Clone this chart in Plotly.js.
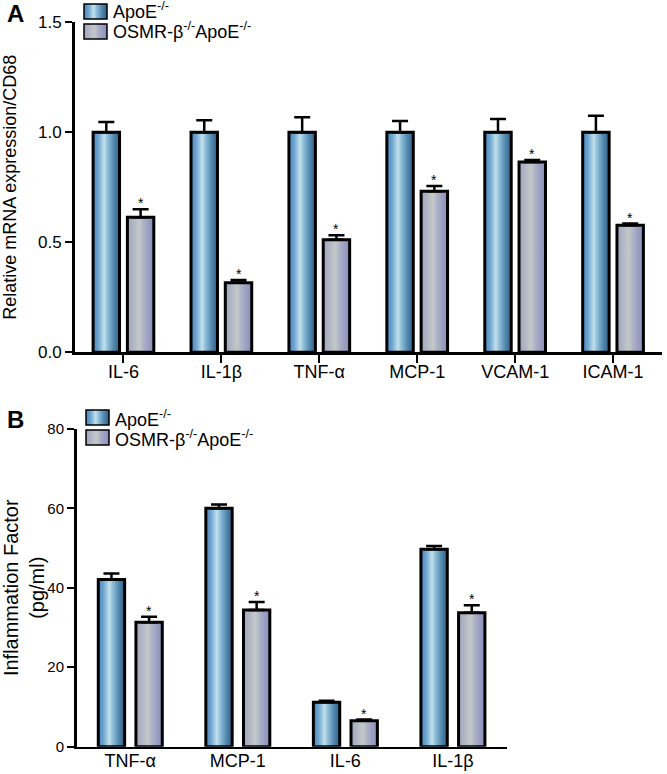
<!DOCTYPE html>
<html>
<head>
<meta charset="utf-8">
<script src="https://cdn.plot.ly/plotly-3.0.1.min.js"></script>
<style>html,body{margin:0;padding:0;background:#fff;}#chart{width:667px;height:774px;}</style>
</head>
<body>
<div id="chart"></div>
<script>
// ---- Data ----
const seriesNames = ['ApoE<sup>-/-</sup>', 'OSMR-β<sup>-/-</sup>ApoE<sup>-/-</sup>'];

// Panel A: Relative mRNA expression / CD68
const catsA = ['IL-6', 'IL-1β', 'TNF-α', 'MCP-1', 'VCAM-1', 'ICAM-1'];
const apoeA = [1.0, 1.0, 1.0, 1.0, 1.0, 1.0];
const apoeAErr = [0.047, 0.055, 0.068, 0.051, 0.060, 0.075];
const osmrA = [0.614, 0.316, 0.512, 0.732, 0.865, 0.577];
const osmrAErr = [0.036, 0.013, 0.020, 0.024, 0.009, 0.008];
const yTicksA = [0.0, 0.5, 1.0, 1.5];

// Panel B: Inflammation factor (pg/ml)
const catsB = ['TNF-α', 'MCP-1', 'IL-6', 'IL-1β'];
const apoeB = [42.1, 60.0, 11.2, 49.7];
const apoeBErr = [1.5, 0.95, 0.35, 0.8];
const osmrB = [31.3, 34.4, 6.5, 33.7];
const osmrBErr = [1.4, 2.0, 0.33, 1.9];
const yTicksB = [0, 20, 40, 60, 80];

// ---- Styling ----
const W = 667, H = 774;
const FONT = 'Liberation Sans, Arial, Helvetica, sans-serif';
const BARGAP = 0.3;
const slotOffset = (1 - BARGAP) / 4; // centre of 2nd bar relative to category
const px = v => v / W;
const py = v => 1 - v / H;

function barTrace(x, y, err, name, xa, ya, width) {
  return {
    type: 'bar', x: x, y: y, name: name, xaxis: xa, yaxis: ya, width: width,
    showlegend: false,
    marker: {color: '#6fa6cf', line: {color: '#000', width: 3}},
    error_y: {type: 'data', array: err, arrayminus: err.map(() => 0), symmetric: false,
              color: '#000', thickness: 2.5, width: 8}
  };
}

const data = [
  barTrace(catsA, apoeA, apoeAErr, seriesNames[0], 'x', 'y', 0.27),
  barTrace(catsA, osmrA, osmrAErr, seriesNames[1], 'x', 'y', 0.27),
  barTrace(catsB, apoeB, apoeBErr, seriesNames[0], 'x2', 'y2', 0.245),
  barTrace(catsB, osmrB, osmrBErr, seriesNames[1], 'x2', 'y2', 0.245)
];
data[1].marker.color = '#a9aec4';
data[3].marker.color = '#a9aec4';

const annotations = [];
// significance asterisks above the OSMR bars
osmrA.forEach((v, i) => annotations.push({
  xref: 'x', yref: 'y', x: i + slotOffset, y: v + osmrAErr[i], text: '*', showarrow: false,
  yanchor: 'bottom', yshift: -4, font: {family: FONT, size: 14, color: '#000'}
}));
osmrB.forEach((v, i) => annotations.push({
  xref: 'x2', yref: 'y2', x: i + slotOffset, y: v + osmrBErr[i], text: '*', showarrow: false,
  yanchor: 'bottom', yshift: -4, font: {family: FONT, size: 14, color: '#000'}
}));
// panel letters
annotations.push({xref: 'paper', yref: 'paper', x: px(15), y: py(14), text: 'A', showarrow: false,
  xanchor: 'center', yanchor: 'middle', font: {family: FONT, size: 24, weight: 'bold', color: '#000'}});
annotations.push({xref: 'paper', yref: 'paper', x: px(15), y: py(419), text: 'B', showarrow: false,
  xanchor: 'center', yanchor: 'middle', font: {family: FONT, size: 24, weight: 'bold', color: '#000'}});

// legend boxes + labels (one legend per panel)
const legendSpec = [
  {x0: 84, y0: 4, top: 11}, {x0: 84, y0: 24, top: 31},
  {x0: 86, y0: 410, top: 418}, {x0: 86, y0: 430, top: 438}
];
const shapes = [];
legendSpec.forEach((s, k) => {
  shapes.push({type: 'rect', xref: 'paper', yref: 'paper',
    x0: px(s.x0), x1: px(s.x0 + 23), y0: py(s.y0), y1: py(s.y0 + 15),
    fillcolor: k % 2 ? '#a9aec4' : '#6fa6cf', line: {color: '#000', width: 1.5}});
  annotations.push({xref: 'paper', yref: 'paper', x: px(s.x0 + 27), y: py(s.top),
    text: seriesNames[k % 2], showarrow: false, xanchor: 'left', yanchor: 'middle',
    font: {family: FONT, size: 18, color: '#000'}});
});

function xAxis(domain, anchor, ticklen) {
  return {domain: domain, anchor: anchor, type: 'category',
    showline: true, linecolor: '#000', linewidth: 2.5, ticks: ticklen ? 'outside' : '', ticklen: ticklen,
    tickwidth: 2, tickcolor: '#000', showgrid: false, zeroline: false, automargin: false,
    tickfont: {family: FONT, size: 18, color: '#000'}, fixedrange: true};
}
function yAxis(domain, anchor, range, ticks, fmt, title, tsize, standoff, tfs) {
  return {domain: domain, anchor: anchor, range: range, tickvals: ticks, tickformat: fmt,
    showline: true, linecolor: '#000', linewidth: 2.5, ticks: 'outside', ticklen: 7,
    tickwidth: 2, tickcolor: '#000', showgrid: false, zeroline: false, automargin: false,
    tickfont: {family: FONT, size: tfs, color: '#000'}, fixedrange: true,
    title: {text: title, standoff: standoff, font: {family: FONT, size: tsize, color: '#000'}}};
}

const xa = xAxis([px(74.5), px(662)], 'y', 8); xa.range = [-0.5, catsA.length - 0.5];
xa.ticklabelstandoff = -6;
const xb = xAxis([px(76.5), px(506.7)], 'y2', 0); xb.range = [-0.5, catsB.length - 0.5];
xb.ticklabelstandoff = -4;
const ya = yAxis([py(352.3), py(22.3)], 'x', [0, 1.5], yTicksA, '.1f',
  'Relative mRNA expression/CD68', 18, 20, 17);
const yb = yAxis([py(746.7), py(428.8)], 'x2', [0, 80], yTicksB, 'd',
  'Inflammation Factor<br>(pg/ml)', 20, 11, 15);

const layout = {
  width: W, height: H, margin: {l: 0, r: 0, t: 0, b: 0},
  paper_bgcolor: '#fff', plot_bgcolor: 'rgba(0,0,0,0)',
  barmode: 'group', bargap: BARGAP, bargroupgap: 0,
  showlegend: false,
  font: {family: FONT, color: '#000'},
  xaxis: xa, yaxis: ya, xaxis2: xb, yaxis2: yb,
  annotations: annotations, shapes: shapes
};

function addGradients(gd) {
  const svg = gd.querySelector('svg.main-svg');
  const ns = 'http://www.w3.org/2000/svg';
  let defs = svg.querySelector('defs');
  if (!defs) { defs = document.createElementNS(ns, 'defs'); svg.insertBefore(defs, svg.firstChild); }
  const grads = {
    gBlue: [[0, '#4a84bd'], [0.2, '#6ea6d0'], [0.42, '#c2e1ec'], [0.55, '#8dbdd8'], [0.8, '#4e84ab'], [1, '#365f85']],
    gGray: [[0, '#9fa4ba'], [0.25, '#b3b8c6'], [0.45, '#c3c9c8'], [0.65, '#a9adc6'], [1, '#878dbb']]
  };
  Object.keys(grads).forEach(id => {
    if (svg.querySelector('#' + id)) return;
    const lg = document.createElementNS(ns, 'linearGradient');
    lg.setAttribute('id', id);
    lg.setAttribute('x1', '0'); lg.setAttribute('x2', '1'); lg.setAttribute('y1', '0'); lg.setAttribute('y2', '0');
    grads[id].forEach(s => {
      const st = document.createElementNS(ns, 'stop');
      st.setAttribute('offset', s[0]); st.setAttribute('stop-color', s[1]);
      lg.appendChild(st);
    });
    defs.appendChild(lg);
  });
  const traces = gd.querySelectorAll('.barlayer .trace.bars');
  traces.forEach((t, i) => {
    const id = i % 2 ? 'gGray' : 'gBlue';
    t.querySelectorAll('.point path').forEach(p => { p.style.fill = 'url(#' + id + ')'; });
  });
  const shp = gd.querySelectorAll('.shapelayer path');
  shp.forEach((p, i) => { p.style.fill = 'url(#' + (i % 2 ? 'gGray' : 'gBlue') + ')'; p.style.fillOpacity = 1; });
}

Plotly.newPlot('chart', data, layout, {staticPlot: true, displayModeBar: false}).then(addGradients);
</script>
</body>
</html>
